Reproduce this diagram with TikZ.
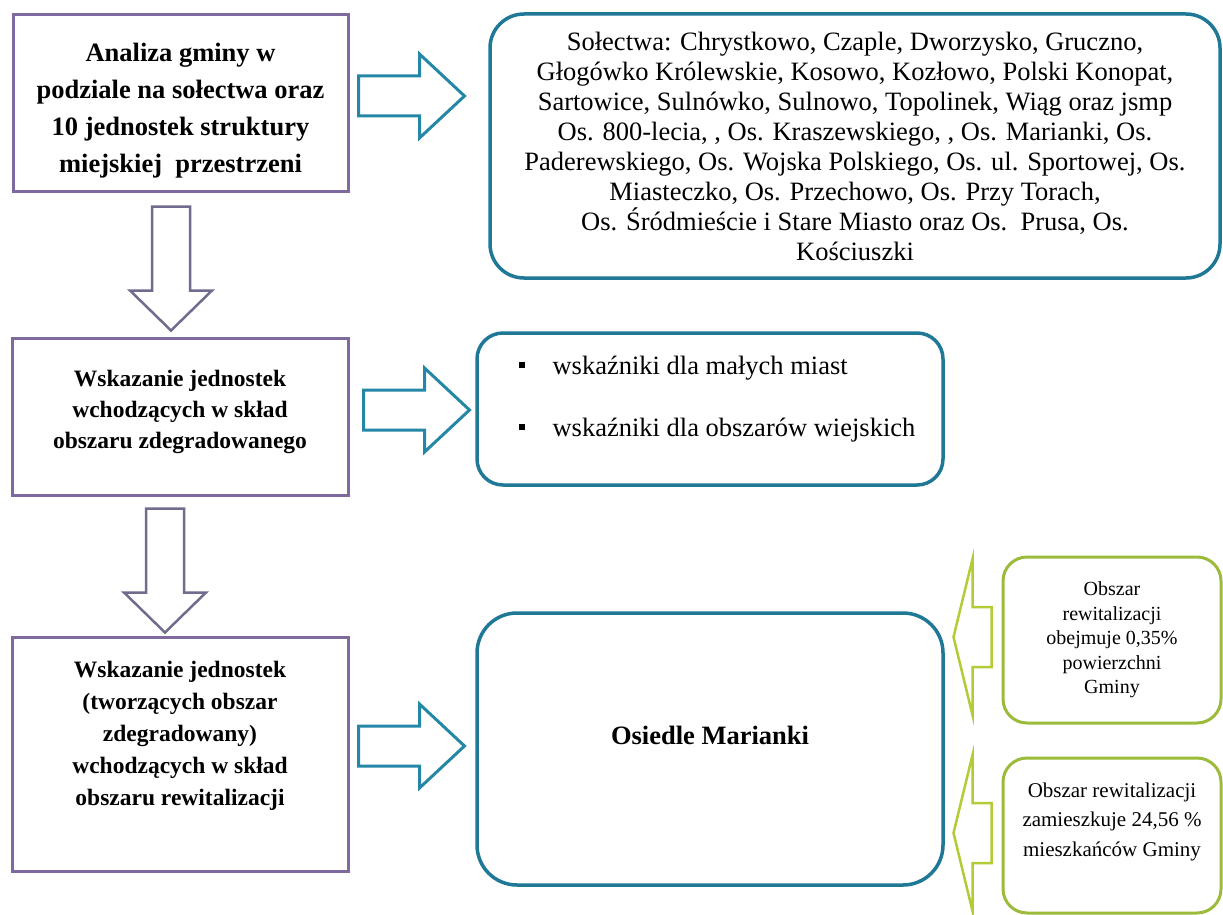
\documentclass[tikz,border=0pt]{standalone}
\usepackage{fontspec}
\setmainfont{Liberation Serif}
\usepackage{tikz}
\usetikzlibrary{positioning}

\definecolor{fiolet}{HTML}{7E6A9E}
\definecolor{fioletarr}{HTML}{6F6C8E}
\definecolor{morski}{HTML}{1F7896}
\definecolor{morskiarr}{HTML}{2587A6}
\definecolor{ziel}{HTML}{9DBB3A}
\definecolor{zielarr}{HTML}{B2CC35}

\begin{document}
\begin{tikzpicture}[x=1pt,y=-1pt,
    etap/.style={draw=fiolet,line width=3pt,rectangle,inner sep=0pt,align=center},
    wynik/.style={draw=morski,line width=3.5pt,rectangle,rounded corners=#1,inner sep=0pt,align=center},
    uwaga/.style={draw=ziel,line width=3pt,rectangle,rounded corners=24pt,inner sep=0pt,align=center},
    doldown/.pic={\draw[pic actions] (-19,0) -- (19,0) -- (19,84) -- (41,84) -- (0,124) -- (-41,84) -- (-19,84) -- cycle;},
    wprawo/.pic={\draw[pic actions] (0,-20) -- (61,-20) -- (61,-42) -- (106,0) -- (61,42) -- (61,20) -- (0,20) -- cycle;},
    wlewo/.pic={\draw[pic actions] (0,0) -- (19,-78) -- (19,-30) -- (38,-30) -- (38,30) -- (19,30) -- (19,78) -- cycle;},
    strzf/.style={draw=fioletarr,line width=2.5pt,fill=white},
    strzm/.style={draw=morskiarr,line width=3pt,fill=white},
    strzz/.style={draw=zielarr,line width=2.5pt,fill=white}]
  \useasboundingbox (0,0) rectangle (1223,915);

  % lewa kolumna
  \node[etap,minimum width=335pt,minimum height=176pt] (analiza) at (180.5,103) {};
  \node[align=center,font=\fontsize{26.5}{37}\selectfont\bfseries] at ([yshift=-8pt]analiza.center)
    {Analiza gminy w\\ podziale na sołectwa oraz\\ 10 jednostek struktury\\ miejskiej\ \ przestrzeni};
  \node[etap,minimum width=336pt,minimum height=157pt] (zdegr) at (180,416.5) {};
  \node[align=center,font=\fontsize{23.5}{31}\selectfont\bfseries] at ([yshift=5pt]zdegr.center)
    {Wskazanie jednostek\\ wchodzących w skład\\ obszaru zdegradowanego};
  \node[etap,minimum width=336pt,minimum height=234pt] (rewit) at (180,754) {};
  \node[align=center,font=\fontsize{23.5}{32}\selectfont\bfseries] at ([yshift=18pt]rewit.center)
    {Wskazanie jednostek\\ (tworzących obszar\\ zdegradowany)\\ wchodzących w skład\\ obszaru rewitalizacji};

  % prawa kolumna
  \node[wynik=34pt,minimum width=730pt,minimum height=264pt,font=\fontsize{26.5}{30}\selectfont] (solectwa) at (855,146)
    {Sołectwa: Chrystkowo, Czaple, Dworzysko, Gruczno,\\
     Głogówko Królewskie, Kosowo, Kozłowo, Polski Konopat,\\
     Sartowice, Sulnówko, Sulnowo, Topolinek, Wiąg oraz jsmp\\
     Os. 800-lecia, , Os. Kraszewskiego, , Os. Marianki, Os.\\
     Paderewskiego, Os. Wojska Polskiego, Os. ul. Sportowej, Os.\\
     Miasteczko, Os. Przechowo, Os. Przy Torach,\\
     Os. Śródmieście i Stare Miasto oraz Os.\ \ Prusa, Os.\\
     Kościuszki};
  \node[wynik=26pt,minimum width=466pt,minimum height=152pt] (wskazniki) at (710,409) {};
  \node[align=left,font=\fontsize{26.5}{30}\selectfont] at ([xshift=7pt,yshift=10pt]wskazniki.center)
    {\raisebox{6pt}{\rule{6pt}{6pt}}\hspace{28pt}wskaźniki dla małych miast\\[32pt]
     \raisebox{6pt}{\rule{6pt}{6pt}}\hspace{28pt}wskaźniki dla obszarów wiejskich};
  \node[wynik=40pt,minimum width=466pt,minimum height=272pt] (marianki) at (710,749) {};
  \node[font=\fontsize{26.5}{30}\selectfont\bfseries] at ([yshift=14pt]marianki.center) {Osiedle Marianki};

  % uwagi
  \node[uwaga,minimum width=218pt,minimum height=166pt,font=\fontsize{20}{24.5}\selectfont] (pow) at (1112,640)
    {Obszar\\ rewitalizacji\\ obejmuje 0,35\%\\ powierzchni\\ Gminy};
  \node[uwaga,minimum width=218pt,minimum height=155pt] (miesz) at (1112,835.5) {};
  \node[align=center,font=\fontsize{21}{29.5}\selectfont] at ([yshift=14pt]miesz.center)
    {Obszar rewitalizacji\\ zamieszkuje 24,56 \%\\ mieszkańców Gminy};

  % strzalki
  \pic[strzf] at ([xshift=-9.5pt,yshift=-14pt]analiza.south) {doldown};
  \pic[strzf] at ([xshift=-15pt,yshift=-12pt]zdegr.south) {doldown};
  \pic[strzm] at ([xshift=9pt,yshift=7pt]analiza.east) {wprawo};
  \pic[strzm] at ([xshift=14pt,yshift=6.5pt]zdegr.east) {wprawo};
  \pic[strzm] at ([xshift=9pt,yshift=8pt]rewit.east) {wprawo};
  \pic[strzz] at ([xshift=-48pt,yshift=3pt]pow.west) {wlewo};
  \pic[strzz] at ([xshift=-48pt,yshift=2.5pt]miesz.west) {wlewo};
\end{tikzpicture}
\end{document}
